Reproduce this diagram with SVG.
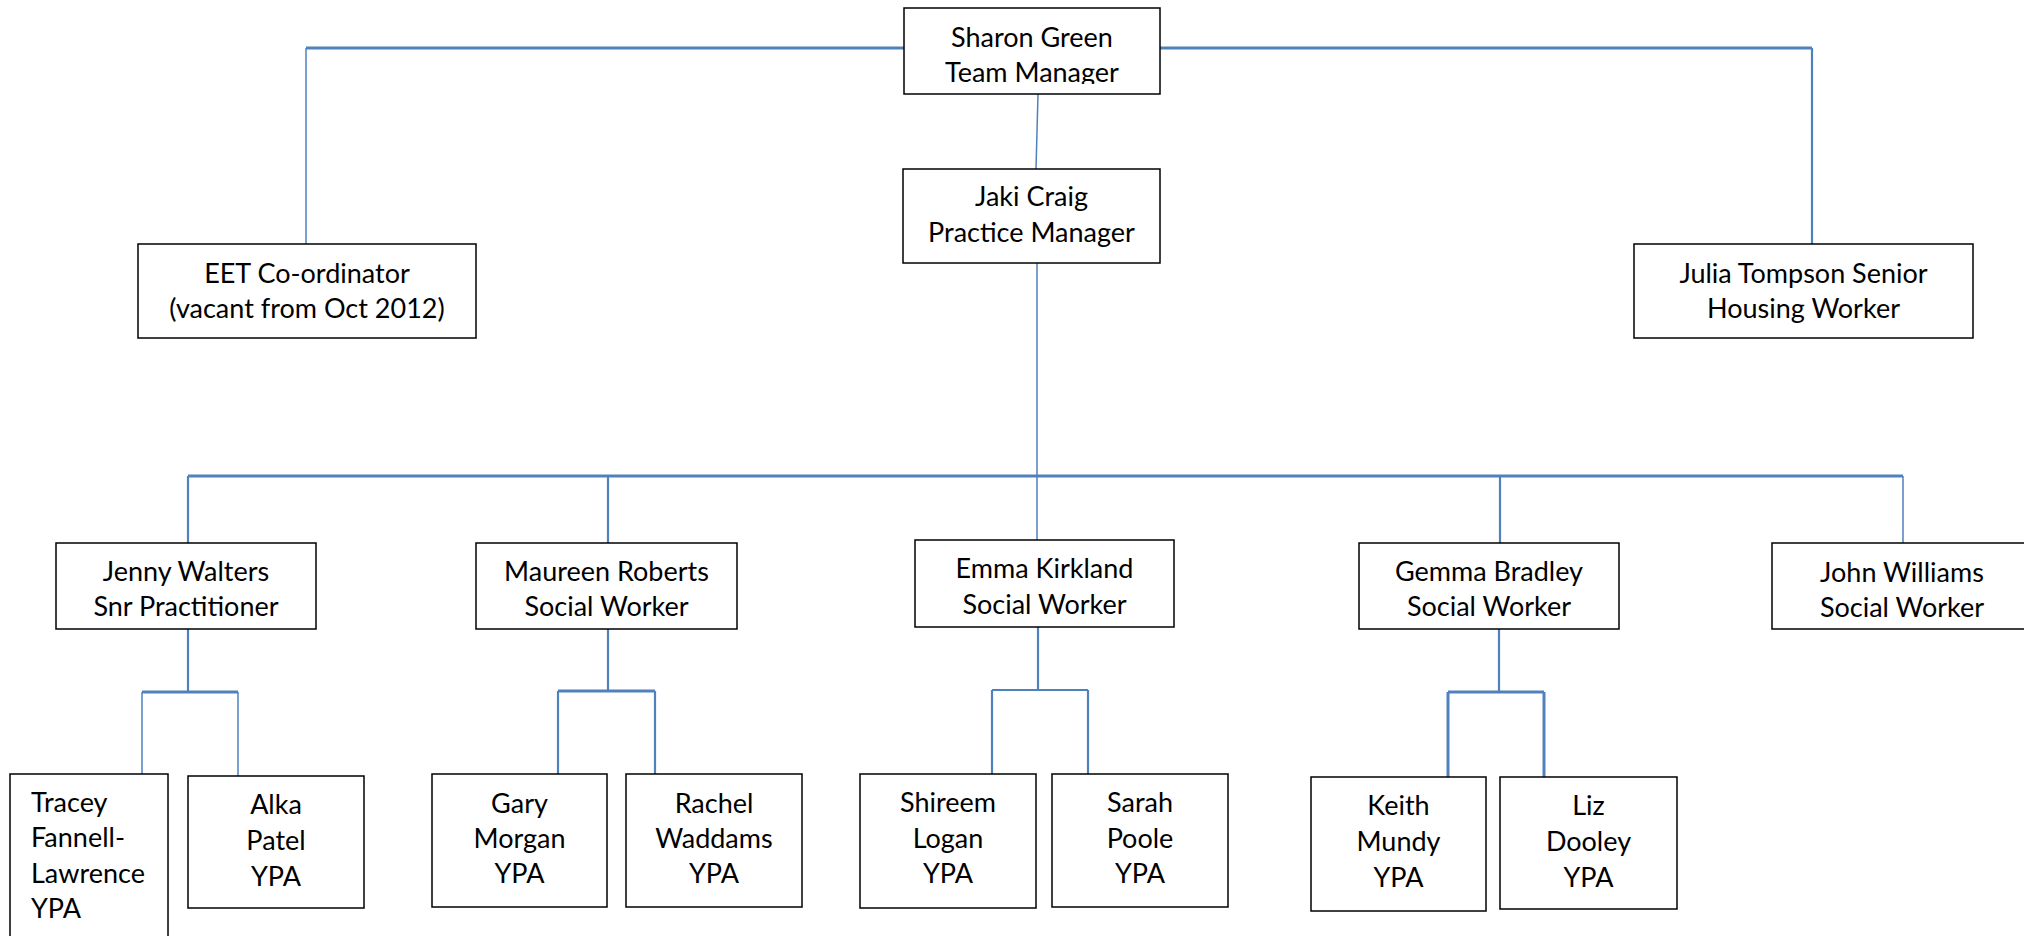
<svg xmlns="http://www.w3.org/2000/svg" width="2024" height="936" viewBox="0 0 2024 936">
<style>
.box{fill:#fff;stroke:#000;stroke-width:1.5}
.t{font-family:Lato,"Open Sans","Liberation Sans",sans-serif;font-size:27px;fill:#000;text-anchor:middle}
.tl{text-anchor:start}
.c{stroke:#4F81BD;fill:none;stroke-linecap:butt}
.w1{stroke-width:1.5}.w2{stroke-width:2.2}.w3{stroke-width:3}
</style>
<defs>
<clipPath id="clipSharon"><rect x="904" y="8" width="256" height="76"/></clipPath>
</defs>
<rect width="2024" height="936" fill="#fff"/>
<g id="connectors">
<path class="c w3" d="M306 48H904M1160 48H1812"/>
<path class="c w1" d="M306 48V244"/>
<path class="c w2" d="M1812 48V244"/>
<path class="c w1" d="M1038 94L1036 169"/>
<path class="c w1" d="M1037 263V540"/>
<path class="c w3" d="M188 476H1903"/>
<path class="c w2" d="M188 476V543M608 476V543M1500 476V543"/>
<path class="c w1" d="M1903 476V543"/>
<path class="c w2" d="M188 629V692"/>
<path class="c w3" d="M142 692H238"/>
<path class="c w1" d="M142 692V774M238 692V776"/>
<path class="c w2" d="M608 629V691"/>
<path class="c w3" d="M558 691H655"/>
<path class="c w2" d="M558 691V774M655 691V774"/>
<path class="c w2" d="M1038 627V690"/>
<path class="c w2" d="M992 690H1088"/>
<path class="c w2" d="M992 690V774M1088 690V774"/>
<path class="c w2" d="M1499 629V692"/>
<path class="c w3" d="M1448 692H1544"/>
<path class="c w3" d="M1448 692V777M1544 692V777"/>
</g>
<g id="sharon"><rect class="box" x="904" y="8" width="256" height="86"/><g clip-path="url(#clipSharon)"><text class="t" x="1032" y="47">Sharon Green</text><text class="t" x="1032" y="82">Team Manager</text></g></g>
<g id="jaki"><rect class="box" x="903" y="169" width="257" height="94"/><text class="t" x="1031.5" y="206">Jaki Craig</text><text class="t" x="1031.5" y="242">Practice Manager</text></g>
<g id="eet"><rect class="box" x="138" y="244" width="338" height="94"/><text class="t" x="307" y="283">EET Co-ordinator</text><text class="t" x="307" y="318">(vacant from Oct 2012)</text></g>
<g id="julia"><rect class="box" x="1634" y="244" width="339" height="94"/><text class="t" x="1803.5" y="283">Julia Tompson Senior</text><text class="t" x="1803.5" y="318">Housing Worker</text></g>
<g id="jenny"><rect class="box" x="56" y="543" width="260" height="86"/><text class="t" x="186" y="581">Jenny Walters</text><text class="t" x="186" y="616">Snr Practitioner</text></g>
<g id="maureen"><rect class="box" x="476" y="543" width="261" height="86"/><text class="t" x="606.5" y="581">Maureen Roberts</text><text class="t" x="606.5" y="616">Social Worker</text></g>
<g id="emma"><rect class="box" x="915" y="540" width="259" height="87"/><text class="t" x="1044.5" y="578">Emma Kirkland</text><text class="t" x="1044.5" y="614">Social Worker</text></g>
<g id="gemma"><rect class="box" x="1359" y="543" width="260" height="86"/><text class="t" x="1489" y="581">Gemma Bradley</text><text class="t" x="1489" y="616">Social Worker</text></g>
<g id="john"><rect class="box" x="1772" y="543" width="262" height="86"/><text class="t" x="1902" y="582">John Williams</text><text class="t" x="1902" y="617">Social Worker</text></g>
<g id="tracey"><rect class="box" x="10" y="774" width="158" height="200"/><text class="t tl" x="31" y="812">Tracey</text><text class="t tl" x="31" y="847">Fannell-</text><text class="t tl" x="31" y="883">Lawrence</text><text class="t tl" x="31" y="918">YPA</text></g>
<g id="alka"><rect class="box" x="188" y="776" width="176" height="132"/><text class="t" x="276" y="814">Alka</text><text class="t" x="276" y="850">Patel</text><text class="t" x="276" y="886">YPA</text></g>
<g id="gary"><rect class="box" x="432" y="774" width="175" height="133"/><text class="t" x="519.5" y="813">Gary</text><text class="t" x="519.5" y="848">Morgan</text><text class="t" x="519.5" y="883">YPA</text></g>
<g id="rachel"><rect class="box" x="626" y="774" width="176" height="133"/><text class="t" x="714" y="813">Rachel</text><text class="t" x="714" y="848">Waddams</text><text class="t" x="714" y="883">YPA</text></g>
<g id="shireem"><rect class="box" x="860" y="774" width="176" height="134"/><text class="t" x="948" y="812">Shireem</text><text class="t" x="948" y="848">Logan</text><text class="t" x="948" y="883">YPA</text></g>
<g id="sarah"><rect class="box" x="1052" y="774" width="176" height="133"/><text class="t" x="1140" y="812">Sarah</text><text class="t" x="1140" y="848">Poole</text><text class="t" x="1140" y="883">YPA</text></g>
<g id="keith"><rect class="box" x="1311" y="777" width="175" height="134"/><text class="t" x="1398.5" y="815">Keith</text><text class="t" x="1398.5" y="851">Mundy</text><text class="t" x="1398.5" y="887">YPA</text></g>
<g id="liz"><rect class="box" x="1500" y="777" width="177" height="132"/><text class="t" x="1588.5" y="815">Liz</text><text class="t" x="1588.5" y="851">Dooley</text><text class="t" x="1588.5" y="887">YPA</text></g>
</svg>
